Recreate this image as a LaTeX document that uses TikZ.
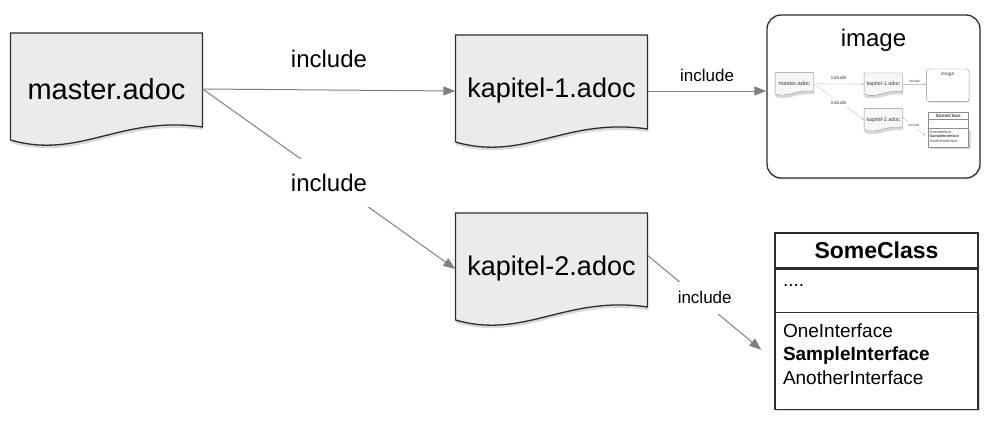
\documentclass[tikz,border=0pt]{standalone}
\usepackage{fontspec}
\setmainfont{Liberation Sans}
\usetikzlibrary{arrows.meta,positioning,shadows}

\definecolor{docfill}{HTML}{EBEBEB}
\definecolor{docline}{HTML}{2E2E2E}
\definecolor{arrowgray}{HTML}{7F7F7F}

\tikzset{
  frame/.style={draw=docline, line width=1.3pt},
  docnode/.style={minimum width=192pt, minimum height=112pt, inner sep=0pt,
    font=\fontsize{27}{32}\selectfont},
  docedge/.style={frame, fill=docfill,
    drop shadow={shadow xshift=0.5pt, shadow yshift=-3pt, opacity=0.3}},
  imgbox/.style={frame, fill=white, rounded corners=14pt, minimum width=213pt,
    minimum height=163pt, drop shadow={shadow xshift=1pt, shadow yshift=-1.5pt, opacity=0.2}},
  imgtitle/.style={font=\fontsize{24}{28}\selectfont, inner xsep=6pt, inner ysep=15pt},
  classhead/.style={frame, fill=white, minimum width=203pt, minimum height=35pt,
    font=\bfseries\fontsize{23}{28}\selectfont},
  classattr/.style={frame, fill=white, minimum width=203pt, text width=187pt,
    align=left, inner xsep=8pt, inner ysep=3.3pt, text height=14pt, text depth=23pt,
    font=\fontsize{19}{23.5}\selectfont},
  classops/.style={frame, fill=white, minimum width=203pt, minimum height=97pt,
    text width=187pt, align=left, inner xsep=8pt, text depth=61pt,
    font=\fontsize{19}{23.5}\selectfont,
    drop shadow={shadow xshift=2pt, shadow yshift=-2pt, opacity=0.3}},
  conn/.style={draw=arrowgray, line width=1pt, -{Triangle[length=12pt,width=9pt]}},
  gap/.style={shorten >=17pt},
  biglabel/.style={font=\fontsize{24}{28}\selectfont},
  smalllabel/.style={font=\fontsize{17}{20}\selectfont},
  % the small copy inside the image box
  thumb/.style={
    frame/.style={draw=black!45, line width=0.35pt},
    docedge/.append style={fill=docfill!40},
    conn/.style={draw=black!25, line width=0.35pt, -{Triangle[length=2.5pt,width=2pt]}},
    gap/.style={shorten >=3.4pt},
    imgbox/.append style={rounded corners=3pt},
    text=black!75},
  diagram/.pic={
    % documents
    \foreach \n/\x/\y/\fs/\txt in {master/106.5/89/29/master.adoc,
        kap1/551.5/91/27/kapitel-1.adoc, kap2/551.5/269/27/kapitel-2.adoc} {
      \path[docedge] (\x,\y) ++(-96,-56) -- ++(192,0) -- ++(0,94)
        .. controls +(-82,-12) and +(69,20) .. ++(-192,13) -- cycle;
      \node[docnode, font=\fontsize{\fs}{32}\selectfont] (\n) at (\x,\y) {\txt};
    }
    % image
    \node[imgbox] (image) at (873.5,96.5) {};
    \node[imgtitle, anchor=north] (imgtitle) at (image.north) {image};
    % class
    \node[classhead] (someclass) at (876.5,250.5) {SomeClass};
    \node[classattr, below=0pt of someclass] (attrs) {....};
    \node[classops, below=-2pt of attrs] (ops)
      {OneInterface\\\textbf{SampleInterface}\\AnotherInterface};
    % includes
    \draw[conn] (master.east) -- node[midway, biglabel, above=18pt] (inc1) {include} (kap1.west);
    \draw[conn] (master.east) -- node[midway, yshift=-4pt, biglabel, fill=white, inner ysep=15pt, inner xsep=3pt] (inc2) {include} (kap2.west);
    \draw[conn] (kap1.east) -- node[midway, smalllabel, above=6pt] (inc3) {include} (kap1.east -| image.west);
    \draw[conn, gap] (kap2.8) -- node[pos=0.45, yshift=5pt, smalllabel, fill=white, inner ysep=10pt, inner xsep=3pt] (inc4) {include} (ops.west);
  }
}

\begin{document}
\begin{tikzpicture}[x=1pt,y=-1pt]
  \useasboundingbox (0,0) rectangle (987,431);
  \pic (main) at (0,0) {diagram};
  % thumbnail of the whole picture inside the image box
  \begin{scope}[shift={(773,66)},scale=0.2,transform shape,thumb]
    \pic (thumb) at (0,0) {diagram};
  \end{scope}
\end{tikzpicture}
\end{document}
